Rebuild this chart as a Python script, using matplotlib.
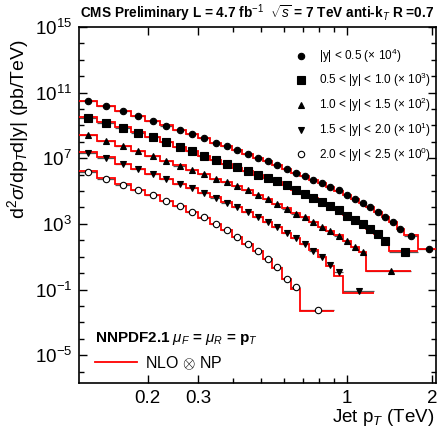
import matplotlib
matplotlib.use("Agg")
import matplotlib.pyplot as plt
import numpy as np
from matplotlib.ticker import FixedLocator, NullFormatter, FixedFormatter, LogFormatterSciNotation
from matplotlib.lines import Line2D

plt.rcParams['font.family'] = ['Liberation Sans', 'DejaVu Sans']
plt.rcParams['mathtext.fontset'] = 'custom'
plt.rcParams['mathtext.rm'] = 'Liberation Sans'
plt.rcParams['mathtext.it'] = 'Liberation Sans:italic'
plt.rcParams['mathtext.bf'] = 'Liberation Sans:bold'

# ---- data (pT bin edges in GeV, cross sections as log10(pb/TeV), already scaled) ----
edges1 = [114,133,153,174,196,220,245,272,300,330,362,395,430,468,507,548,592,638,686,737,790,846,905,967,1032,1101,1172,1248,1327,1410,1497,1588,1784,2116]
edges2 = [114,133,153,174,196,220,245,272,300,330,362,395,430,468,507,548,592,638,686,737,790,846,905,967,1032,1101,1172,1248,1327,1410,1784]
edges3 = [114,133,153,174,196,220,245,272,300,330,362,395,430,468,507,548,592,638,686,737,790,846,905,967,1032,1101,1172,1684]
edges4 = [114,133,153,174,196,220,245,272,300,330,362,395,430,468,507,548,592,638,686,737,790,846,905,967,1248]
edges5 = [114,133,153,174,196,220,245,272,300,330,362,395,430,468,507,548,592,638,686,905]

data1 = [10.50,10.19,9.87,9.56,9.27,8.99,8.70,8.46,8.21,7.95,7.73,7.50,7.28,7.04,6.81,6.61,6.32,6.12,5.89,5.69,5.48,5.24,5.04,4.79,4.53,4.29,4.02,3.71,3.41,3.14,2.70,2.29,1.47]
data2 = [9.48,9.17,8.86,8.56,8.27,7.98,7.70,7.42,7.15,6.90,6.64,6.44,6.20,6.00,5.79,5.59,5.34,5.08,4.84,4.59,4.36,4.12,3.84,3.51,3.23,2.98,2.67,2.38,1.98,1.27]
data3 = [8.40,8.05,7.73,7.44,7.12,6.83,6.55,6.29,6.03,5.75,5.55,5.30,5.06,4.77,4.52,4.22,3.93,3.63,3.41,3.10,2.84,2.59,2.29,1.98,1.57,1.31,0.10]
data4 = [7.32,7.04,6.66,6.36,6.03,5.73,5.45,5.18,4.87,4.60,4.30,4.04,3.74,3.41,3.13,2.84,2.47,2.13,1.78,1.37,1.00,0.50,0.04,-1.08]
data5 = [6.16,5.75,5.40,5.08,4.73,4.38,4.06,3.71,3.39,3.00,2.63,2.18,1.78,1.33,0.86,0.35,-0.36,-0.87,-2.22]

theo1 = [10.52,10.20,9.88,9.57,9.28,9.00,8.71,8.46,8.21,7.95,7.72,7.50,7.27,7.04,6.81,6.60,6.33,6.11,5.89,5.68,5.48,5.24,5.03,4.79,4.54,4.28,4.02,3.72,3.40,3.14,2.69,2.30,1.47]
theo2 = [9.52,9.19,8.88,8.58,8.28,7.99,7.71,7.43,7.15,6.90,6.65,6.43,6.20,5.99,5.78,5.58,5.34,5.09,4.84,4.60,4.36,4.11,3.85,3.53,3.24,2.98,2.68,2.38,1.82,1.33]
theo3 = [8.44,8.07,7.75,7.45,7.13,6.84,6.56,6.30,6.03,5.76,5.55,5.30,5.06,4.78,4.52,4.23,3.94,3.64,3.40,3.11,2.84,2.58,2.30,1.98,1.58,1.27,0.15]
theo4 = [7.36,7.06,6.68,6.37,6.04,5.74,5.46,5.19,4.88,4.61,4.31,4.04,3.75,3.42,3.13,2.84,2.47,2.14,1.77,1.38,0.99,0.45,-0.16,-1.24]
theo5 = [6.20,5.77,5.42,5.09,4.74,4.39,4.06,3.71,3.38,3.00,2.63,2.19,1.78,1.33,0.86,0.34,-0.38,-0.97,-2.30]

labels = [r"|y| < 0.5 ($\times$ 10$^{4}$)",
          r"0.5 < |y| < 1.0 ($\times$ 10$^{3}$)",
          r"1.0 < |y| < 1.5 ($\times$ 10$^{2}$)",
          r"1.5 < |y| < 2.0 ($\times$ 10$^{1}$)",
          r"2.0 < |y| < 2.5 ($\times$ 10$^{0}$)"]
markers = ['o', 's', '^', 'v', 'o']
msizes = [4.6, 5.2, 4.8, 4.8, 4.6]
mfaces = ['black', 'black', 'black', 'black', 'white']

series = [(edges1, data1, theo1), (edges2, data2, theo2), (edges3, data3, theo3),
          (edges4, data4, theo4), (edges5, data5, theo5)]

fig = plt.figure(figsize=(4.42, 4.36), dpi=100)
ax = fig.add_axes([79/442, 53/436, 357/442, 356/436])

handles = []
for (edges, dat, theo), mk, ms, mf in zip(series, markers, msizes, mfaces):
    e = np.array(edges) / 1000.0
    centers = 0.5 * (e[:-1] + e[1:])
    y = 10.0 ** np.array(dat)
    t = 10.0 ** np.array(theo)
    xerr = [centers - e[:-1], e[1:] - centers]
    ax.errorbar(centers, y, xerr=xerr, fmt='none', ecolor='#555555', elinewidth=0.9, zorder=2)
    ax.stairs(t, e, color='red', lw=1.3, zorder=3, baseline=None)
    h, = ax.plot(centers, y, linestyle='none', marker=mk, ms=ms, mfc=mf, mec='black', mew=0.8, zorder=4)
    handles.append(h)

ax.set_xscale('log')
ax.set_yscale('log')
ax.set_xlim(0.1146, 2.06)
ax.set_ylim(2e-7, 1e15)

ax.xaxis.set_major_locator(FixedLocator([0.2, 0.3, 1, 2]))
ax.xaxis.set_major_formatter(FixedFormatter(['0.2', '0.3', '1', '2']))
ax.xaxis.set_minor_locator(FixedLocator([0.4, 0.5, 0.6, 0.7, 0.8, 0.9]))
ax.xaxis.set_minor_formatter(NullFormatter())
ax.yaxis.set_major_locator(FixedLocator([1e-5, 1e-1, 1e3, 1e7, 1e11, 1e15]))
ax.yaxis.set_major_formatter(LogFormatterSciNotation())
ax.yaxis.set_minor_locator(FixedLocator([10.0 ** k for k in range(-6, 15)]))
ax.yaxis.set_minor_formatter(NullFormatter())

ax.tick_params(which='both', direction='in', top=True, right=True, width=1.0)
ax.tick_params(which='major', length=6, labelsize=13.5, pad=5)
ax.tick_params(which='minor', length=3.5)
for s in ax.spines.values():
    s.set_linewidth(1.2)

ax.set_ylabel(r"d$^2$$\sigma$/dp$_T$d|y| (pb/TeV)", fontsize=14, loc='top')
ax.yaxis.set_label_coords(-0.135, 0.965)
ax.set_xlabel(r"Jet p$_T$ (TeV)", fontsize=13.5, loc='right')
ax.xaxis.set_label_coords(0.995, -0.068)

fig.text(80/442, 1 - 13/436,
         r"CMS Preliminary L = 4.7 fb$^{-1}$  $\sqrt{s}$ = 7 TeV anti-k$_{T}$ R =0.7",
         fontsize=9.8, fontweight='bold', ha='left', va='center')

leg1 = ax.legend(handles, labels, loc='upper right', bbox_to_anchor=(0.985, 0.945),
                 frameon=False, fontsize=8.5, labelspacing=0.55, handletextpad=0.9,
                 handlelength=1.2, borderaxespad=0, borderpad=0)
ax.add_artist(leg1)

ax.text(0.045, 0.126, r"NNPDF2.1 $\mu_{F}$ = $\mu_{R}$ = p$_{T}$", transform=ax.transAxes,
        fontsize=11, fontweight='bold', ha='left', va='center')
proxy = Line2D([], [], color='red', lw=1.3)
ax.legend([proxy], [r"NLO $\otimes$ NP"], loc='center left', bbox_to_anchor=(0.045, 0.056),
          frameon=False, fontsize=11.5, handlelength=2.6, handletextpad=0.5,
          borderaxespad=0, borderpad=0)

fig.savefig("out.png", dpi=100)
